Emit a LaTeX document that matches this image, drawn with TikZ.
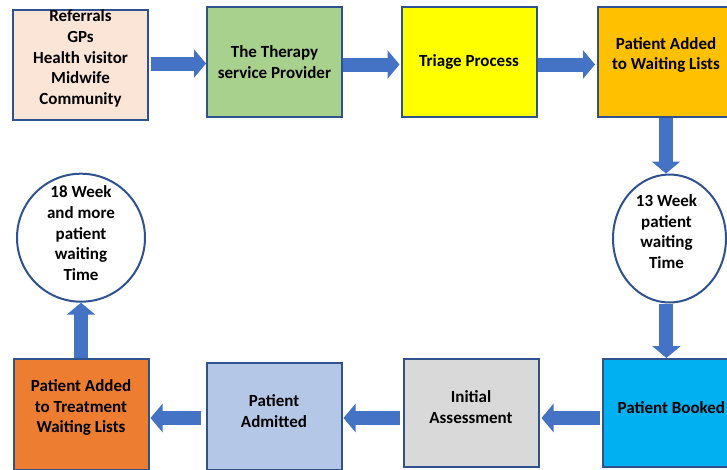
\documentclass[tikz,border=0pt]{standalone}
\usepackage{fontspec}
\setmainfont{Carlito}
\usetikzlibrary{arrows.meta,shapes.geometric}

\definecolor{edge}{HTML}{2F528F}
\definecolor{flowblue}{HTML}{4472C4}
\definecolor{peach}{HTML}{FBE5D6}
\definecolor{sage}{HTML}{A9D18E}
\definecolor{lemon}{HTML}{FFFF00}
\definecolor{amber}{HTML}{FFC000}
\definecolor{sky}{HTML}{00B0F0}
\definecolor{silver}{HTML}{D9D9D9}
\definecolor{pale}{HTML}{B4C7E7}
\definecolor{rust}{HTML}{ED7D31}

\begin{document}
\begin{tikzpicture}[x=1pt,y=-1pt,
  box/.style={draw=edge, line width=2pt, rectangle, inner sep=0pt,
              minimum width=135pt, minimum height=110pt},
  ring/.style={draw=edge, line width=2pt, fill=white, inner sep=0pt},
  lbl/.style={font=\bfseries\fontsize{17}{20.7}\selectfont, align=center, inner sep=0pt},
  flow/.style={draw=flowblue, line width=14pt,
               -{Triangle[length=12pt,width=28pt]}}]
\useasboundingbox (0,0) rectangle (727,469);
\clip (0,0) rectangle (727,469);

% process boxes, top row
\node[box, fill=peach] (b1) at (80.5,65) {};
\node[box, fill=sage]  (b2) at (274.5,62) {};
\node[box, fill=lemon] (b3) at (469,62) {};
\node[box, fill=amber, minimum width=136pt] (b4) at (666,62) {};

% waiting-time circles
\node[ring, ellipse, minimum width=113pt, minimum height=128pt] (c1) at (669.5,238.5) {};
\node[ring, circle, minimum size=128pt] (c2) at (81,237.7) {};

% process boxes, bottom row
\node[box, fill=sky, minimum width=127pt, minimum height=108pt] (b6) at (666.4,413) {};
\node[box, fill=silver, minimum height=108pt] (b7) at (471,413) {};
\node[box, fill=pale, minimum height=107pt] (b8) at (274,416.5) {};
\node[box, fill=rust, minimum height=111pt] (b9) at (81,414.5) {};

% labels
\node[lbl] (t1) at ([yshift=6.5pt]b1.center) {Referrals\\GPs\\Health visitor\\Midwife\\Community};
\node[lbl] (t2) at (b2.center) {The Therapy\\service Provider};
\node[lbl] (t3) at (b3.center) {Triage Process};
\node[lbl] (t4) at ([yshift=7pt]b4.center) {Patient Added\\to Waiting Lists};
\node[lbl] (tc1) at ([xshift=-3pt,yshift=7pt]c1.center) {13 Week\\patient\\waiting\\Time};
\node[lbl] (tc2) at ([yshift=4.5pt]c2.center) {18 Week\\and more\\patient\\waiting\\Time};
\node[lbl] (t6) at ([xshift=5pt,yshift=5pt]b6.center) {Patient Booked};
\node[lbl] (t7) at ([yshift=6pt]b7.center) {Initial\\Assessment};
\node[lbl] (t8) at ([yshift=5.5pt]b8.center) {Patient\\Admitted};
\node[lbl] (t9) at ([yshift=7pt]b9.center) {Patient Added\\to Treatment\\Waiting Lists};

% flow arrows
\draw[flow] ([xshift=2pt,yshift=1.5pt]b1.east) -- ([yshift=1.5pt]b1.east -| b2.west);
\draw[flow] ([yshift=-2.5pt]b2.east) -- ([yshift=-2.5pt,xshift=-1pt]b2.east -| b3.west);
\draw[flow] ([yshift=-2.5pt]b3.east) -- ([yshift=-2.5pt,xshift=-2pt]b3.east -| b4.west);
\draw[flow] (b4.south) -- (b4.south |- c1.north);
\draw[flow] (b6.north |- c1.south) -- (b6.north);
\draw[flow] ([yshift=-5pt,xshift=-2pt]b6.west) -- ([yshift=-5pt,xshift=2pt]b6.west -| b7.east);
\draw[flow] ([yshift=-5pt,xshift=-3pt]b7.west) -- ([yshift=-5pt,xshift=1pt]b7.west -| b8.east);
\draw[flow] ([yshift=-1.5pt,xshift=-5pt]b8.west) -- ([yshift=-1.5pt,xshift=1pt]b8.west -| b9.east);
\draw[flow] (b9.north) -- (b9.north |- c2.south);
\end{tikzpicture}
\end{document}
